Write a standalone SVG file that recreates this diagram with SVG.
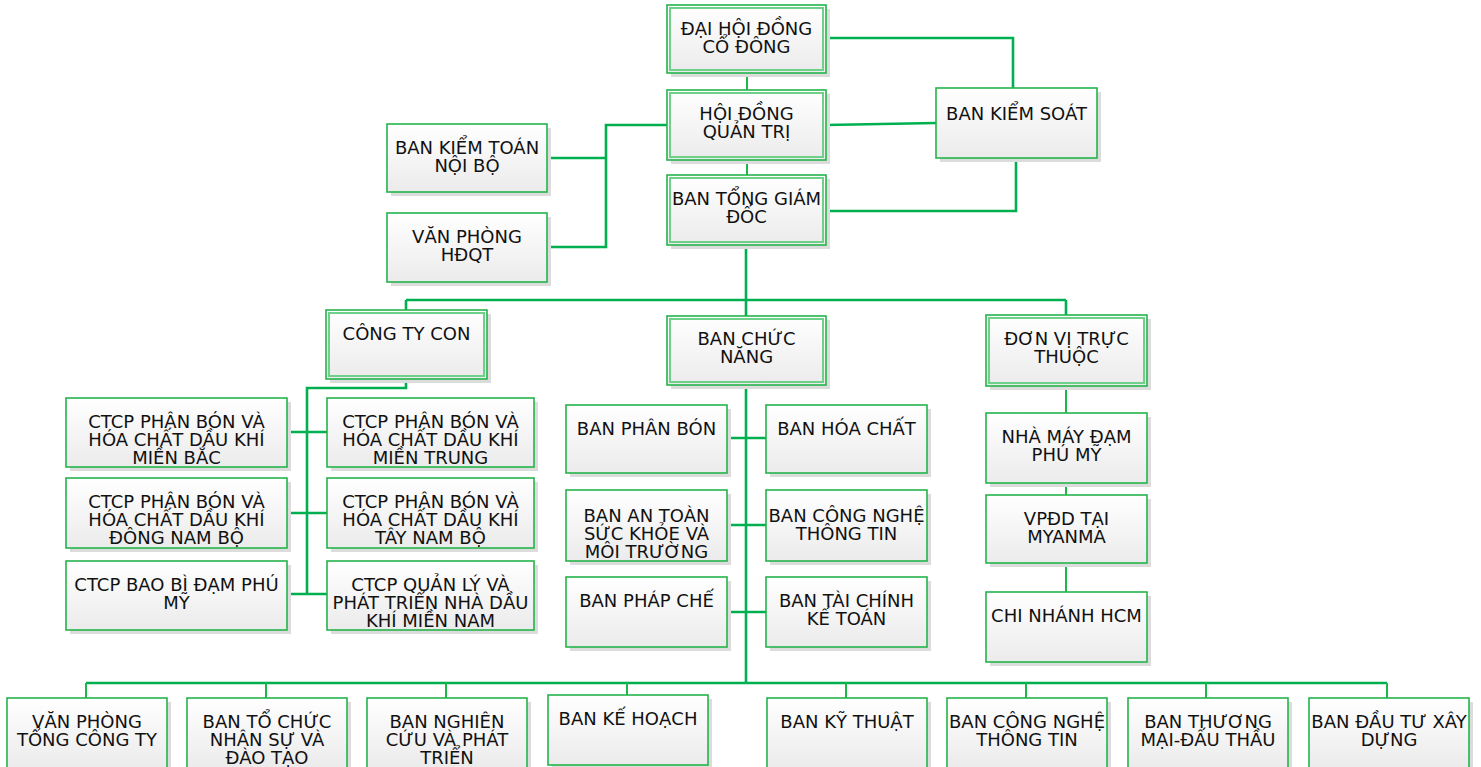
<svg xmlns="http://www.w3.org/2000/svg" width="1481" height="767" viewBox="0 0 1481 767">
<defs>
<linearGradient id="g" x1="0" y1="0" x2="0" y2="1">
<stop offset="0" stop-color="#ffffff"/>
<stop offset="1" stop-color="#ebebeb"/>
</linearGradient>
<style>
.sh{fill:#dcdcdc}
.bx{fill:url(#g);stroke:#25b44c;stroke-width:1.6}
.in{fill:none;stroke:#6fd08a;stroke-width:2}
.t{font-family:"DejaVu Sans",Verdana,sans-serif;font-size:18px;fill:#111;text-anchor:middle}
.c{fill:none;stroke:#00b050;stroke-width:2.6}
.c2{fill:none;stroke:#1fb64c;stroke-width:2}
</style>
</defs>
<rect width="1481" height="767" fill="#ffffff"/>

<g id="connectors">
<path class="c2" d="M747,73V90M747,160V175"/>
<path class="c" d="M826,38H1013V88"/>
<path class="c" d="M826,125L936,123"/>
<path class="c" d="M826,211H1016V158"/>
<path class="c" d="M667,125H606V247H547M547,158H606"/>
<path class="c" d="M746,245V300M406,300H1066M406,300V310M746,300V316M1066,300V315"/>
<path class="c" d="M406,379V388H307V594"/>
<path class="c" d="M287,432H327M287,513H327M287,594H327"/>
<path class="c" d="M746,385V684"/>
<path class="c" d="M727,438H766M727,525H766M727,612H766"/>
<path class="c" d="M86,683H1387"/>
<path class="c2" d="M86,683V698M266,683V698M446,683V698M627,683V695M846,683V698M1026,683V698M1206,683V698M1387,683V698"/>
<path class="c2" d="M1066,386V413M1066,483V495M1066,563V592"/>
</g>

<g id="dhdcd"><rect class="sh" x="671" y="9" width="159" height="68"/><rect class="bx" x="667" y="5" width="159" height="68"/><rect class="in" x="670" y="8" width="153" height="62"/><text class="t" x="746.5" y="35">ĐẠI HỘI ĐỒNG</text><text class="t" x="746.5" y="53">CỔ ĐÔNG</text></g>
<g id="hdqt"><rect class="sh" x="671" y="94" width="159" height="70"/><rect class="bx" x="667" y="90" width="159" height="70"/><rect class="in" x="670" y="93" width="153" height="64"/><text class="t" x="746.5" y="120">HỘI ĐỒNG</text><text class="t" x="746.5" y="138">QUẢN TRỊ</text></g>
<g id="btgd"><rect class="sh" x="671" y="179" width="159" height="70"/><rect class="bx" x="667" y="175" width="159" height="70"/><rect class="in" x="670" y="178" width="153" height="64"/><text class="t" x="746.5" y="205">BAN TỔNG GIÁM</text><text class="t" x="746.5" y="223">ĐỐC</text></g>
<g id="bks"><rect class="sh" x="940" y="92" width="161" height="70"/><rect class="bx" x="936" y="88" width="161" height="70"/><text class="t" x="1016.5" y="120">BAN KIỂM SOÁT</text></g>
<g id="bktnb"><rect class="sh" x="391" y="128" width="160" height="68"/><rect class="bx" x="387" y="124" width="160" height="68"/><text class="t" x="467" y="154">BAN KIỂM TOÁN</text><text class="t" x="467" y="172">NỘI BỘ</text></g>
<g id="vphdqt"><rect class="sh" x="391" y="217" width="160" height="69"/><rect class="bx" x="387" y="213" width="160" height="69"/><text class="t" x="467" y="243">VĂN PHÒNG</text><text class="t" x="467" y="261">HĐQT</text></g>

<g id="ctycon"><rect class="sh" x="330" y="314" width="161" height="69"/><rect class="bx" x="326" y="310" width="161" height="69"/><rect class="in" x="329" y="313" width="155" height="63"/><text class="t" x="406.5" y="340">CÔNG TY CON</text></g>
<g id="bcn"><rect class="sh" x="671" y="320" width="159" height="69"/><rect class="bx" x="667" y="316" width="159" height="69"/><rect class="in" x="670" y="319" width="153" height="63"/><text class="t" x="746.5" y="345">BAN CHỨC</text><text class="t" x="746.5" y="363">NĂNG</text></g>
<g id="dvtt"><rect class="sh" x="990" y="319" width="161" height="71"/><rect class="bx" x="986" y="315" width="161" height="71"/><rect class="in" x="989" y="318" width="155" height="65"/><text class="t" x="1066.5" y="345">ĐƠN VỊ TRỰC</text><text class="t" x="1066.5" y="363">THUỘC</text></g>

<g id="nmdpm"><rect class="sh" x="990" y="417" width="161" height="70"/><rect class="bx" x="986" y="413" width="161" height="70"/><text class="t" x="1066.5" y="443">NHÀ MÁY ĐẠM</text><text class="t" x="1066.5" y="461">PHÚ MỸ</text></g>
<g id="vpdd"><rect class="sh" x="990" y="499" width="161" height="68"/><rect class="bx" x="986" y="495" width="161" height="68"/><text class="t" x="1066.5" y="525">VPĐD TẠI</text><text class="t" x="1066.5" y="543">MYANMA</text></g>
<g id="cnhcm"><rect class="sh" x="990" y="596" width="161" height="70"/><rect class="bx" x="986" y="592" width="161" height="70"/><text class="t" x="1066.5" y="622">CHI NHÁNH HCM</text></g>

<g id="ct1"><rect class="sh" x="70" y="402" width="221" height="69"/><rect class="bx" x="66" y="398" width="221" height="69"/><text class="t" x="176.5" y="428">CTCP PHÂN BÓN VÀ</text><text class="t" x="176.5" y="446">HÓA CHẤT DẦU KHÍ</text><text class="t" x="176.5" y="464">MIỀN BẮC</text></g>
<g id="ct2"><rect class="sh" x="331" y="402" width="207" height="69"/><rect class="bx" x="327" y="398" width="207" height="69"/><text class="t" x="430.5" y="428">CTCP PHÂN BÓN VÀ</text><text class="t" x="430.5" y="446">HÓA CHẤT DẦU KHÍ</text><text class="t" x="430.5" y="464">MIỀN TRUNG</text></g>
<g id="ct3"><rect class="sh" x="70" y="482" width="221" height="70"/><rect class="bx" x="66" y="478" width="221" height="70"/><text class="t" x="176.5" y="508">CTCP PHÂN BÓN VÀ</text><text class="t" x="176.5" y="526">HÓA CHẤT DẦU KHÍ</text><text class="t" x="176.5" y="544">ĐÔNG NAM BỘ</text></g>
<g id="ct4"><rect class="sh" x="331" y="482" width="207" height="70"/><rect class="bx" x="327" y="478" width="207" height="70"/><text class="t" x="430.5" y="508">CTCP PHÂN BÓN VÀ</text><text class="t" x="430.5" y="526">HÓA CHẤT DẦU KHÍ</text><text class="t" x="430.5" y="544">TÂY NAM BỘ</text></g>
<g id="ct5"><rect class="sh" x="70" y="565" width="221" height="69"/><rect class="bx" x="66" y="561" width="221" height="69"/><text class="t" x="176.5" y="591">CTCP BAO BÌ ĐẠM PHÚ</text><text class="t" x="176.5" y="609">MỸ</text></g>
<g id="ct6"><rect class="sh" x="331" y="565" width="207" height="69"/><rect class="bx" x="327" y="561" width="207" height="69"/><text class="t" x="430.5" y="591">CTCP QUẢN LÝ VÀ</text><text class="t" x="430.5" y="609">PHÁT TRIỂN NHÀ DẦU</text><text class="t" x="430.5" y="627">KHÍ MIỀN NAM</text></g>

<g id="bpb"><rect class="sh" x="570" y="409" width="161" height="68"/><rect class="bx" x="566" y="405" width="161" height="68"/><text class="t" x="646.5" y="435">BAN PHÂN BÓN</text></g>
<g id="bhc"><rect class="sh" x="770" y="409" width="161" height="68"/><rect class="bx" x="766" y="405" width="161" height="68"/><text class="t" x="846.5" y="435">BAN HÓA CHẤT</text></g>
<g id="batsk"><rect class="sh" x="570" y="494" width="161" height="71"/><rect class="bx" x="566" y="490" width="161" height="71"/><text class="t" x="646.5" y="522">BAN AN TOÀN</text><text class="t" x="646.5" y="540">SỨC KHỎE VÀ</text><text class="t" x="646.5" y="558">MÔI TRƯỜNG</text></g>
<g id="bcntt1"><rect class="sh" x="770" y="494" width="161" height="71"/><rect class="bx" x="766" y="490" width="161" height="71"/><text class="t" x="846.5" y="522">BAN CÔNG NGHỆ</text><text class="t" x="846.5" y="540">THÔNG TIN</text></g>
<g id="bpc"><rect class="sh" x="570" y="581" width="161" height="70"/><rect class="bx" x="566" y="577" width="161" height="70"/><text class="t" x="646.5" y="607">BAN PHÁP CHẾ</text></g>
<g id="btckt"><rect class="sh" x="770" y="581" width="161" height="70"/><rect class="bx" x="766" y="577" width="161" height="70"/><text class="t" x="846.5" y="607">BAN TÀI CHÍNH</text><text class="t" x="846.5" y="625">KẾ TOÁN</text></g>

<g id="vptct"><rect class="sh" x="11" y="702" width="160" height="70"/><rect class="bx" x="7" y="698" width="160" height="70"/><text class="t" x="87" y="728">VĂN PHÒNG</text><text class="t" x="87" y="746">TỔNG CÔNG TY</text></g>
<g id="btcns"><rect class="sh" x="191" y="702" width="160" height="70"/><rect class="bx" x="187" y="698" width="160" height="70"/><text class="t" x="267" y="728">BAN TỔ CHỨC</text><text class="t" x="267" y="746">NHÂN SỰ VÀ</text><text class="t" x="267" y="764">ĐÀO TẠO</text></g>
<g id="bnc"><rect class="sh" x="371" y="702" width="160" height="70"/><rect class="bx" x="367" y="698" width="160" height="70"/><text class="t" x="447" y="728">BAN NGHIÊN</text><text class="t" x="447" y="746">CỨU VÀ PHÁT</text><text class="t" x="447" y="764">TRIỂN</text></g>
<g id="bkh"><rect class="sh" x="552" y="699" width="160" height="70"/><rect class="bx" x="548" y="695" width="160" height="70"/><text class="t" x="628" y="725">BAN KẾ HOẠCH</text></g>
<g id="bkt"><rect class="sh" x="771" y="702" width="160" height="70"/><rect class="bx" x="767" y="698" width="160" height="70"/><text class="t" x="847" y="728">BAN KỸ THUẬT</text></g>
<g id="bcntt2"><rect class="sh" x="951" y="702" width="160" height="70"/><rect class="bx" x="947" y="698" width="160" height="70"/><text class="t" x="1027" y="728">BAN CÔNG NGHỆ</text><text class="t" x="1027" y="746">THÔNG TIN</text></g>
<g id="btmdt"><rect class="sh" x="1132" y="702" width="160" height="70"/><rect class="bx" x="1128" y="698" width="160" height="70"/><text class="t" x="1208" y="728">BAN THƯƠNG</text><text class="t" x="1208" y="746">MẠI-ĐẤU THẦU</text></g>
<g id="bdtxd"><rect class="sh" x="1313" y="702" width="160" height="70"/><rect class="bx" x="1309" y="698" width="160" height="70"/><text class="t" x="1389" y="728">BAN ĐẦU TƯ XÂY</text><text class="t" x="1389" y="746">DỰNG</text></g>
</svg>
